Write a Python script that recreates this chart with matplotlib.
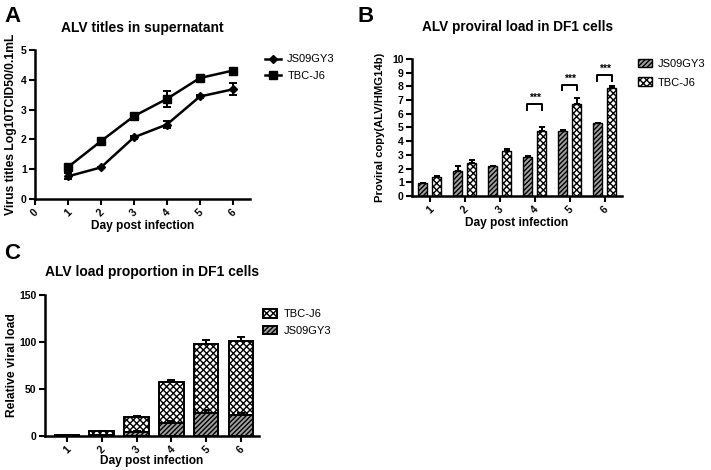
import matplotlib
matplotlib.use("Agg")
import matplotlib.pyplot as plt
from matplotlib.lines import Line2D
import numpy as np

plt.rcParams['font.family'] = ['Liberation Sans', 'DejaVu Sans']
plt.rcParams['hatch.linewidth'] = 1.0

days = [1, 2, 3, 4, 5, 6]

# Panel A
a_js = [0.76, 1.06, 2.07, 2.50, 3.44, 3.68]
a_js_err = [0.10, 0.03, 0.04, 0.12, 0.04, 0.20]
a_tbc = [1.07, 1.94, 2.78, 3.36, 4.06, 4.31]
a_tbc_err = [0.04, 0.04, 0.10, 0.27, 0.04, 0.05]

# Panel B
b_js = [0.92, 1.80, 2.18, 2.82, 4.78, 5.32]
b_js_err = [0.05, 0.40, 0.04, 0.12, 0.06, 0.04]
b_tbc = [1.42, 2.42, 3.28, 4.72, 6.68, 7.85]
b_tbc_err = [0.04, 0.22, 0.16, 0.35, 0.45, 0.20]
sig_days = [4, 5, 6]
sig_levels = [6.7, 8.1, 8.8]

# Panel C
c_js = [0.3, 1.5, 4.5, 14.0, 24.5, 22.0]
c_js_err = [0.0, 0.0, 0.5, 2.0, 3.0, 3.0]
c_tbc = [0.7, 3.5, 15.5, 43.5, 73.5, 79.0]
c_total_err = [0.2, 0.5, 1.0, 2.5, 4.0, 4.0]

JS_FACE = '#a0a0a0'
JS_HATCH = '///////'
TBC_FACE = 'white'
TBC_HATCH = 'xxxxx'

fig = plt.figure(figsize=(7.11, 4.70), dpi=100)

def style_axes(ax):
    for s in ['top', 'right']:
        ax.spines[s].set_visible(False)
    for s in ['left', 'bottom']:
        ax.spines[s].set_linewidth(1.8)
    ax.tick_params(width=1.5, length=4, labelsize=7.5, direction='out', pad=2)
    for lab in ax.get_xticklabels() + ax.get_yticklabels():
        lab.set_fontweight('bold')

leg_kw = dict(frameon=False, borderaxespad=0, borderpad=0,
              prop={'size': 8, 'weight': 'normal'})

# ---------- A ----------
axA = fig.add_axes([0.0492, 0.5766, 0.3024, 0.3170])
axA.errorbar(days, a_js, yerr=a_js_err, color='black', marker='D', markersize=4.5,
             lw=1.8, capsize=3, elinewidth=1.4, capthick=1.4)
axA.errorbar(days, a_tbc, yerr=a_tbc_err, color='black', marker='s', markersize=6,
             lw=1.8, capsize=3, elinewidth=1.4, capthick=1.4)
axA.set_xlim(0, 6.52)
axA.set_ylim(0, 5)
axA.set_xticks([0] + days)
axA.set_xticklabels([str(v) for v in [0] + days], rotation=45)
axA.set_yticks([0, 1, 2, 3, 4, 5])
axA.set_xlabel('Day post infection', fontsize=8.6, fontweight='bold', labelpad=1)
axA.set_ylabel('Virus titles Log10TCID50/0.1mL', fontsize=8.7, fontweight='bold', labelpad=3)
axA.set_title('ALV titles in supernatant', fontsize=10, fontweight='bold', pad=13)
style_axes(axA)
hA = [Line2D([], [], color='black', marker='D', markersize=4.5, lw=1.8),
      Line2D([], [], color='black', marker='s', markersize=6, lw=1.8)]
axA.legend(hA, ['JS09GY3', 'TBC-J6'], loc='upper left', bbox_to_anchor=(1.07, 0.97),
           handlelength=1.4, handletextpad=0.6, labelspacing=0.55, **leg_kw)

# ---------- B ----------
axB = fig.add_axes([0.5795, 0.5830, 0.2954, 0.2915])
x = np.array(days, dtype=float)
w = 0.25
axB.bar(x - 0.2, b_js, w, yerr=[np.zeros(6), b_js_err], color=JS_FACE, edgecolor='black',
        hatch=JS_HATCH, lw=1.0, capsize=2.5, error_kw=dict(elinewidth=1.4, capthick=1.4),
        label='JS09GY3')
axB.bar(x + 0.2, b_tbc, w, yerr=[np.zeros(6), b_tbc_err], color=TBC_FACE, edgecolor='black',
        hatch=TBC_HATCH, lw=1.0, capsize=2.5, error_kw=dict(elinewidth=1.4, capthick=1.4),
        label='TBC-J6')
for d, lvl in zip(sig_days, sig_levels):
    x0, x1 = d - 0.22, d + 0.22
    axB.plot([x0, x0, x1, x1], [lvl - 0.4, lvl, lvl, lvl - 0.4], color='black', lw=1.4)
    axB.text(d, lvl + 0.12, '***', ha='center', va='bottom', fontsize=7.5, fontweight='bold')
axB.set_xlim(0.49, 6.5)
axB.set_ylim(0, 10)
axB.set_xticks(days)
axB.set_xticklabels([str(v) for v in days], rotation=45)
axB.set_yticks(range(0, 11))
axB.set_xlabel('Day post infection', fontsize=8.6, fontweight='bold', labelpad=1)
axB.set_ylabel('Proviral copy(ALV/HMG14b)', fontsize=8.1, fontweight='bold', labelpad=5)
axB.set_title('ALV proviral load in DF1 cells', fontsize=9.8, fontweight='bold', pad=20)
style_axes(axB)
axB.legend(loc='upper left', bbox_to_anchor=(1.076, 1.0), handlelength=1.3, handleheight=0.8,
           handletextpad=0.5, labelspacing=0.75, **leg_kw)

# ---------- C ----------
axC = fig.add_axes([0.0633, 0.0723, 0.3010, 0.3000])
wc = 0.71
axC.bar(x, c_tbc, wc, bottom=c_js, yerr=[np.zeros(6), c_total_err], color=TBC_FACE,
        edgecolor='black', hatch=TBC_HATCH, lw=1.4, capsize=3,
        error_kw=dict(elinewidth=1.4, capthick=1.4), label='TBC-J6')
axC.bar(x, c_js, wc, yerr=[np.zeros(6), c_js_err], color=JS_FACE, edgecolor='black',
        hatch=JS_HATCH, lw=1.4, capsize=3, error_kw=dict(elinewidth=1.4, capthick=1.4),
        label='JS09GY3')
axC.set_xlim(0.37, 6.52)
axC.set_ylim(0, 150)
axC.set_xticks(days)
axC.set_xticklabels([str(v) for v in days], rotation=45)
axC.set_yticks([0, 50, 100, 150])
axC.set_xlabel('Day post infection', fontsize=8.6, fontweight='bold', labelpad=0)
axC.set_ylabel('Relative viral load', fontsize=8.7, fontweight='bold', labelpad=1)
axC.set_title('ALV load proportion in DF1 cells', fontsize=10, fontweight='bold', pad=14)
style_axes(axC)
axC.legend(loc='upper left', bbox_to_anchor=(1.02, 0.90), handlelength=1.2, handleheight=0.8,
           handletextpad=0.6, labelspacing=0.6, **leg_kw)

# Panel letters
fig.text(0.006, 1 - 22 / 470, 'A', fontsize=16, fontweight='bold', va='baseline')
fig.text(0.503, 1 - 22 / 470, 'B', fontsize=16, fontweight='bold', va='baseline')
fig.text(0.006, 1 - 259 / 470, 'C', fontsize=16, fontweight='bold', va='baseline')

fig.savefig('out.png', dpi=100)
